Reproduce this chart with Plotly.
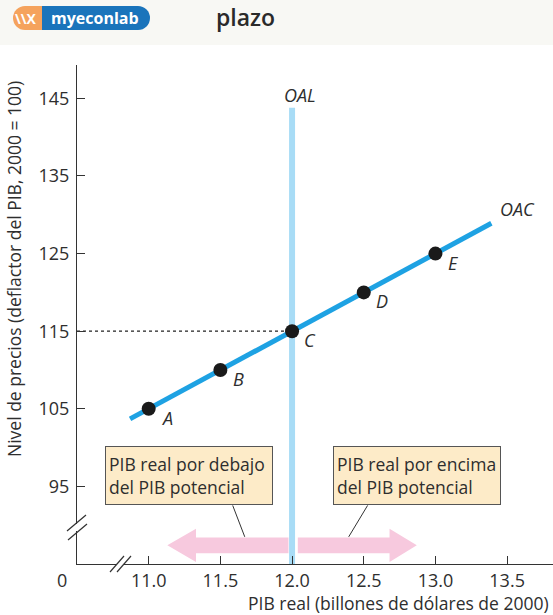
import plotly.graph_objects as go

# ---- data ----
point_labels = ["A", "B", "C", "D", "E"]
real_gdp = [11.0, 11.5, 12.0, 12.5, 13.0]          # billones de dólares de 2000
price_level = [105, 110, 115, 120, 125]             # deflactor del PIB
oac_x = [10.87, 13.39]
oac_y = [103.7, 128.9]
potential_gdp = 12.0
oal_top = 143.8
x_ticks = [11.0, 11.5, 12.0, 12.5, 13.0, 13.5]
y_ticks = [95, 105, 115, 125, 135, 145]

W, H = 553, 615
L, R, T, B = 77, 0, 65, 51
PW, PH = W - L - R, H - T - B
XR = [10.5, 13.82]
YR = [85, 149.3]


def px(x):
    return (x - L) / PW


def py(y):
    return (H - B - y) / PH


FONT = "Open Sans"
OAC_COL = "#1ea2e3"
OAL_COL = "#a8dcf6"
PINK = "#f7c9de"
TXT = "#2e2e2e"

fig = go.Figure()

# OAL vertical line
fig.add_trace(go.Scatter(x=[potential_gdp, potential_gdp], y=[YR[0], oal_top], mode="lines",
                         line=dict(color=OAL_COL, width=6), hoverinfo="skip", showlegend=False))
# dotted line to C
c_idx = 2
fig.add_trace(go.Scatter(x=[XR[0], real_gdp[c_idx]], y=[price_level[c_idx]] * 2, mode="lines",
                         line=dict(color="#222", width=1.3, dash="dot"), hoverinfo="skip", showlegend=False))
# OAC line
fig.add_trace(go.Scatter(x=oac_x, y=oac_y, mode="lines", line=dict(color=OAC_COL, width=5),
                         hoverinfo="skip", showlegend=False))
# points
fig.add_trace(go.Scatter(x=real_gdp, y=price_level, mode="markers",
                         marker=dict(color="#1a1a1a", size=14), hoverinfo="skip", showlegend=False))

shapes = []
# arrows (pink) built in data coordinates
ay, shaft_h, head_h = 87.4, 1.0, 2.15


def arrow(x0, xb, xt):
    return (f"M {x0},{ay - shaft_h} L {xb},{ay - shaft_h} L {xb},{ay - head_h} L {xt},{ay} "
            f"L {xb},{ay + head_h} L {xb},{ay + shaft_h} L {x0},{ay + shaft_h} Z")


shapes.append(dict(type="path", path=arrow(11.975, 11.33, 11.13), fillcolor=PINK, line=dict(width=0), layer="below"))
shapes.append(dict(type="path", path=arrow(12.04, 12.68, 12.87), fillcolor=PINK, line=dict(width=0), layer="below"))
# leader lines
shapes.append(dict(type="line", x0=11.586, y0=92.55, x1=11.67, y1=88.5, line=dict(color="#333", width=1)))
shapes.append(dict(type="line", x0=12.527, y0=92.55, x1=12.395, y1=88.5, line=dict(color="#333", width=1)))

# header band
shapes.append(dict(type="rect", xref="paper", yref="paper", x0=px(0), x1=px(W), y0=py(0), y1=py(45),
                   fillcolor="#f8f8f4", line=dict(width=0), layer="below"))
# logo
shapes.append(dict(type="circle", xref="paper", yref="paper", x0=px(13), x1=px(37), y0=py(30), y1=py(6),
                   fillcolor="#f5a35d", line=dict(width=0)))
shapes.append(dict(type="rect", xref="paper", yref="paper", x0=px(25), x1=px(42), y0=py(30), y1=py(6),
                   fillcolor="#f5a35d", line=dict(width=0)))
shapes.append(dict(type="circle", xref="paper", yref="paper", x0=px(126), x1=px(150), y0=py(30), y1=py(6),
                   fillcolor="#1a74bb", line=dict(width=0)))
shapes.append(dict(type="rect", xref="paper", yref="paper", x0=px(42), x1=px(138), y0=py(30), y1=py(6),
                   fillcolor="#1a74bb", line=dict(width=0)))

# y-axis break: white gap + slashes
shapes.append(dict(type="rect", xref="paper", yref="paper", x0=px(74), x1=px(80), y0=py(531), y1=py(524),
                   fillcolor="white", line=dict(width=0), layer="above"))
shapes.append(dict(type="line", xref="paper", yref="paper", x0=px(67), y0=py(531), x1=px(86), y1=py(515),
                   line=dict(color="#333", width=1.2)))
shapes.append(dict(type="line", xref="paper", yref="paper", x0=px(68), y0=py(540), x1=px(87), y1=py(524),
                   line=dict(color="#333", width=1.2)))
# x-axis break
shapes.append(dict(type="rect", xref="paper", yref="paper", x0=px(116), x1=px(124), y0=py(567), y1=py(561),
                   fillcolor="white", line=dict(width=0), layer="above"))
shapes.append(dict(type="line", xref="paper", yref="paper", x0=px(110), y0=py(572), x1=px(124), y1=py(556),
                   line=dict(color="#333", width=1.2)))
shapes.append(dict(type="line", xref="paper", yref="paper", x0=px(117), y0=py(572), x1=px(131), y1=py(556),
                   line=dict(color="#333", width=1.2)))

annotations = []


def note(x, y, text, size, **kw):
    d = dict(xref="paper", yref="paper", x=px(x), y=py(y), text=text, showarrow=False,
             xanchor="center", yanchor="middle", font=dict(family=FONT, size=size, color=TXT))
    d.update(kw)
    annotations.append(d)


# point labels
for lab, x, y in zip(point_labels, real_gdp, price_level):
    annotations.append(dict(x=x, y=y, text=f"<i>{lab}</i>", showarrow=False, xshift=18, yshift=-9,
                            xanchor="center", yanchor="middle",
                            font=dict(family=FONT, size=18, color=TXT)))
annotations.append(dict(x=oac_x[1], y=oac_y[1], text="<i>OAC</i>", showarrow=False, xshift=26, yshift=14,
                        xanchor="center", yanchor="middle", font=dict(family=FONT, size=18, color=TXT)))
annotations.append(dict(x=potential_gdp, y=oal_top, text="<i>OAL</i>", showarrow=False, xshift=8, yshift=13,
                        xanchor="center", yanchor="middle", font=dict(family=FONT, size=18, color=TXT)))
# boxes
for xc, txt in [(11.28, "PIB real por debajo<br>del PIB potencial"),
                (12.87, "PIB real por encima<br>del PIB potencial")]:
    annotations.append(dict(x=xc, y=96.4, text=txt, showarrow=False, align="left",
                            xanchor="center", yanchor="middle",
                            width=160, height=51, borderpad=3, bgcolor="#fdebc8",
                            bordercolor="#555", borderwidth=1,
                            font=dict(family=FONT, size=17.5, color=TXT)))
# origin 0
note(62, 580, "0", 18)
# logo text
note(26, 18, "<b>\\\\X</b>", 14, font=dict(family=FONT, size=14, color="white"))
note(95, 18, "<b>myeconlab</b>", 16, font=dict(family=FONT, size=16, color="white"))
# title fragment
note(214, 17, "plazo", 23, xanchor="left", font=dict(family=FONT, size=23, color="#2a2a2a", weight=600))
# axis titles
note(551, 603, "PIB real (billones de dólares de 2000)", 17.5, xanchor="right")
note(14, 269, "Nivel de precios (deflactor del PIB, 2000 = 100)", 17.5, textangle=-90)

fig.update_layout(
    width=W, height=H, margin=dict(l=L, r=R, t=T, b=B),
    paper_bgcolor="white", plot_bgcolor="white",
    shapes=shapes, annotations=annotations, showlegend=False,
    xaxis=dict(range=XR, tickvals=x_ticks, ticktext=[f"{v:.1f}" for v in x_ticks],
               ticks="inside", ticklen=8, tickcolor="#333", showline=True, linecolor="#333", linewidth=1.2,
               showgrid=False, zeroline=False, tickfont=dict(family=FONT, size=18, color=TXT)),
    yaxis=dict(range=YR, tickvals=y_ticks, ticks="inside", ticklen=8, tickcolor="#333",
               showline=True, linecolor="#333", linewidth=1.2, showgrid=False, zeroline=False,
               ticklabelstandoff=3, tickfont=dict(family=FONT, size=18, color=TXT)),
)
fig.write_html("out.html", config={"displayModeBar": False},
               post_script="document.body.style.margin='0';document.body.style.overflow='hidden';")
